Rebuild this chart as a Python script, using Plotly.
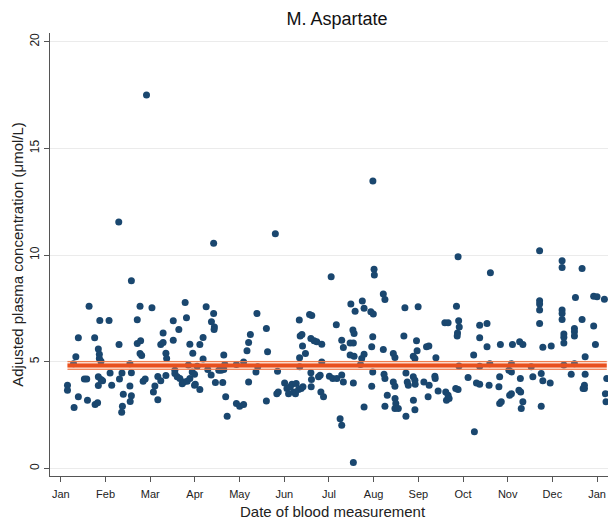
import plotly.graph_objects as go

# Day of year (0 = 1 Jan) and adjusted plasma aspartate concentration (umol/L)
day = [
    4.5, 4.5, 9, 10.2, 11.9, 11.9, 8.6, 16, 17.6, 18.1, 19.2, 23, 23.3, 25, 25.5, 26.2, 26.2, 27.3,
    25.5, 25.5, 27.3, 28.4, 26.5, 32.8, 33.5, 34.6, 39.6, 39.9, 41.6, 41.9, 41.4, 42.5, 47, 48, 47,
    48, 48, 47.2, 52, 53.9, 52, 54.3, 53.9, 55, 56, 57.4, 62, 63, 64, 66, 66, 68, 68, 69.6, 69.6,
    71.5, 71.5, 72, 76.5, 76.5, 77.6, 77.6, 80.3, 84.6, 85.5, 87.8, 89.8, 86.8,
    79.2, 81, 82.6, 83.7, 86, 87.8, 89.4, 91, 91, 91.5, 94.6, 92.8,
    39.4, 58.3,
    104, 146, 184, 98.9, 104, 102.5, 104.5, 104.3, 94.6, 96.8, 96.8, 100, 102.3, 105.2, 107.5,
    109.2, 110.9, 110.2, 110.9, 111.6, 112.2, 113.2, 119.5, 121.7, 124.4, 119.5, 124.4, 126.7,
    127.8, 129, 127.8, 132.8, 133.5, 134, 139.9, 140.7, 139.9, 147.5, 147, 148, 152.3,
    153.9, 155, 156.1, 157.3, 158.4, 160.2, 159.7, 161.8, 163.6, 164.8,
    162.3, 162.9, 164.1, 162.5, 164.5, 166.5, 162.6, 169.3, 170.8, 170.2, 172.4, 174.2, 177.6,
    170.2, 170.6, 170.4, 177.6, 176.5, 175.4, 177, 178.8, 182.8, 185.1, 187.5,
    191.2, 192.3, 197.4, 200.3, 205.2, 206.4, 211, 212.7, 213.2, 213.4, 219.5, 220.6, 198.8,
    199.6, 196.9, 199.1, 196.9, 199.6, 204.8, 206.4, 204, 211.6, 212.3, 219.5, 226.3, 227.4,
    187.9, 191.2, 192.3, 199.1, 190.1, 191.2, 199.1, 206.4, 211.6, 212.3, 220, 220.6, 222.2,
    220.6, 226.3, 227.4, 227.5, 228, 227.4, 229.7, 233.5, 234.2, 234.9, 235.8, 236.5, 234.9,
    239.9, 241, 239.9, 241, 241.2, 240, 241, 242.1, 242.5, 243.2, 247.1, 250.7, 248.9, 250.5,
    250, 255.3, 254.6, 254.8, 256.8, 261.4, 263.6, 262, 263.6, 262.5, 264.3, 269.3, 270.4,
    270.8, 271.2, 270, 269.8, 268.8, 270.4, 271, 277.2, 281, 281.5, 212.4,
    282.9, 285.1, 285.1, 285.1, 290.1, 285.1, 290.1, 292.4, 291.5, 292, 298.7, 298.2, 299.2,
    298.7, 299.8, 305, 306.7, 306.7, 305.5, 306.7, 307.4, 312.3, 314.5, 312.8, 311.8, 313,
    314.5, 313.4, 320.2, 321.3, 325.9, 325.9, 325.9, 325.9, 325.9, 327, 328.1, 327, 328.1,
    333.1, 333.8, 341.2, 341.2, 341.2, 341.2, 341.2, 342.4, 342.4, 342.4, 342.4, 347.4, 350.3,
    349.6, 349.6, 349.6, 349.6, 354.8, 354.8, 356.4, 356.4, 355.5, 356.9, 356.9, 362.7, 365,
    370, 362.7, 363.9, 371.6, 370.7, 371.1,
]
value = [
    3.9, 3.66, 2.85, 5.23, 6.12, 3.35, 4.9, 4.19, 4.19, 3.19, 7.6, 6.12, 2.99, 3.08, 5.6, 5.35, 5.15, 5.02,
    4.29, 3.88, 4.16, 4.1, 6.93, 6.93, 4.47, 3.9, 5.8, 4.19, 4.47, 2.91, 2.63, 3.47, 3.86, 8.79, 4.9,
    4.48, 3.4, 3.13, 6.96, 7.6, 5.85, 5.98, 5.38, 5.29, 4.08, 4.19, 7.53, 3.58, 3.86, 3.22, 4.31, 4.1, 5.8, 5.9, 6.35,
    4.35, 5.4, 5.15, 6.92, 6.0, 4.6, 4.45, 6.51, 7.78, 7.06, 5.82, 5.4, 4.85,
    4.29, 4.21, 3.97, 4.05, 4.08, 4.21, 4.52, 3.89, 4.41, 3.94, 3.69, 4.79,
    11.55, 17.5,
    10.55, 11.0, 8.98, 7.57, 7.26, 6.87, 6.63, 6.51, 5.81, 6.13, 5.13, 4.63, 4.37, 4.02, 4.6,
    4.6, 4.63, 4.02, 5.31, 4.87, 3.35, 2.44, 3.04, 2.91, 2.99, 4.87, 4.99, 5.51,
    5.9, 6.28, 4.05, 4.52, 7.26, 4.76, 6.56, 5.46, 3.16, 4.55, 3.5, 3.58, 4.0,
    3.74, 3.5, 3.82, 3.94, 3.58, 3.98, 3.5, 3.69, 3.74, 3.82,
    6.95, 6.2, 6.28, 5.18, 5.73, 5.38, 4.76, 7.21, 7.17, 6.09, 5.98, 5.93, 5.82,
    4.48, 4.16, 3.82, 4.99, 4.36, 4.29, 3.58, 3.35, 4.32, 4.21, 6.73,
    6.01, 5.67, 7.7, 7.37, 7.84, 7.5, 7.34, 7.23, 9.33, 9.06, 8.17, 7.92, 6.48,
    6.32, 5.88, 5.88, 5.31, 5.26, 5.15, 5.35, 4.87, 5.7, 6.17, 5.57, 5.38, 5.2,
    4.21, 4.37, 4.05, 4.0, 2.33, 2.02, 0.27, 2.88, 3.85, 4.52, 4.41, 4.21, 3.43,
    2.91, 4.05, 3.85, 3.27, 3.04, 2.8, 2.8, 6.2, 7.53, 4.47, 4.05, 3.9, 2.44,
    5.26, 5.15, 4.29, 4.13, 3.94, 3.19, 2.75, 5.98, 5.51, 7.57, 4.05, 3.9, 5.7, 5.73,
    3.35, 5.18, 4.32, 4.21, 3.62, 6.82, 6.82, 3.58, 3.43, 3.19, 3.27, 7.6, 9.92,
    6.92, 6.63, 6.35, 6.2, 3.74, 3.69, 4.8, 4.26, 5.31, 1.71, 13.47,
    4.0, 3.94, 4.78, 6.71, 6.79, 6.12, 5.7, 9.17, 3.9, 4.9, 4.29, 3.82, 5.8,
    3.04, 3.12, 4.6, 4.52, 4.9, 3.43, 3.5, 5.8, 5.93, 5.8, 4.21, 3.66, 3.58,
    3.12, 2.8, 4.76, 4.29, 10.2, 7.86, 7.7, 7.42, 6.79, 4.44, 4.1, 2.91, 5.68,
    4.0, 5.73, 9.73, 9.42, 7.42, 7.26, 6.98, 6.3, 6.14, 5.88, 4.84, 4.41, 8.01,
    6.56, 6.4, 6.2, 4.9, 9.37, 6.98, 3.74, 3.9, 3.74, 4.41, 5.23, 8.07, 8.04,
    7.93, 6.67, 5.8, 4.21, 3.5, 3.12,
]

# Fitted mean with confidence interval
fit_mean = 4.82
fit_lo = 4.64
fit_hi = 5.01

month_labels = ["Jan", "Feb", "Mar", "Apr", "May", "Jun", "Jul",
                "Aug", "Sep", "Oct", "Nov", "Dec", "Jan"]
month_pos = [i * 365 / 12 for i in range(13)]
y_ticks = [0, 5, 10, 15, 20]

x0, x1 = min(day), max(day)

fig = go.Figure()
fig.add_trace(go.Scatter(
    x=day, y=value, mode="markers",
    marker=dict(color="#1a476f", size=7, line=dict(width=0)),
    hoverinfo="skip", showlegend=False,
))
fig.add_trace(go.Scatter(
    x=[x0, x1], y=[fit_lo, fit_lo], mode="lines",
    line=dict(color="#f07a48", width=1), showlegend=False, hoverinfo="skip",
))
fig.add_trace(go.Scatter(
    x=[x0, x1], y=[fit_hi, fit_hi], mode="lines",
    line=dict(color="#f07a48", width=1), fill="tonexty",
    fillcolor="rgba(245,150,110,0.35)", showlegend=False, hoverinfo="skip",
))
fig.add_trace(go.Scatter(
    x=[x0, x1], y=[fit_mean, fit_mean], mode="lines",
    line=dict(color="#e8501e", width=4), showlegend=False, hoverinfo="skip",
))

# The page body adds an 8 px margin, so the figure is 8 px smaller and shifted.
fig.update_layout(
    width=608, height=516,
    margin=dict(l=42, r=0, t=25, b=48, autoexpand=False),
    paper_bgcolor="white", plot_bgcolor="white",
    font=dict(family="Liberation Sans, Arial, sans-serif", color="#222"),
    title=dict(text="M. Aspartate", x=0.5 + 25 / 608, xref="container", xanchor="center",
               y=1 - 11 / 516, yref="container", yanchor="middle",
               font=dict(size=18, color="#111")),
    showlegend=False,
    annotations=[dict(
        text="Date of blood measurement", xref="paper", yref="paper",
        x=0.5, y=0, xanchor="center", yanchor="middle", yshift=-35,
        showarrow=False, font=dict(size=15, color="#222"),
    )],
)
fig.update_xaxes(
    range=[-7.4, 377.9], automargin=False,
    tickmode="array", tickvals=month_pos, ticktext=month_labels,
    ticks="outside", ticklen=5, tickcolor="#555", tickwidth=1,
    showline=True, linecolor="#555", linewidth=1,
    showgrid=False, zeroline=False, ticklabelstandoff=3,
    tickfont=dict(size=11, color="#222"),
)
fig.update_yaxes(
    range=[-0.36, 20.41], automargin=False,
    tickmode="array", tickvals=y_ticks, tickangle=-90,
    ticks="outside", ticklen=5, tickcolor="#555", tickwidth=1,
    showline=True, linecolor="#555", linewidth=1,
    showgrid=True, gridcolor="#ebebeb", gridwidth=1, zeroline=False,
    tickfont=dict(size=12, color="#222"),
    title=dict(text="Adjusted plasma concentration (μmol/L)",
               font=dict(size=15, color="#222"), standoff=0),
)

fig.write_html("out.html")
